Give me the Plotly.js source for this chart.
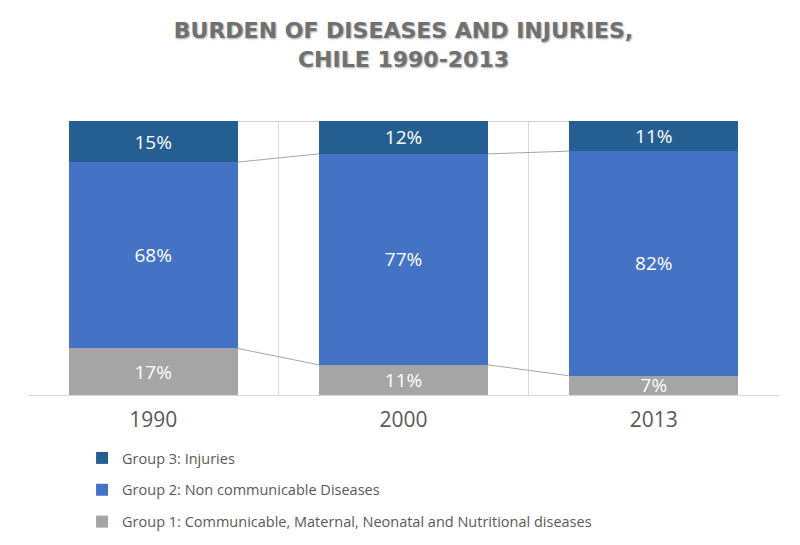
<!DOCTYPE html>
<html>
<head>
<meta charset="utf-8">
<script src="https://cdn.plot.ly/plotly-3.0.1.min.js"></script>
<style>html,body{margin:0;padding:0;background:#fff;}#chart{width:800px;height:545px;}</style>
</head>
<body>
<div id="chart"></div>
<script>
const years = ['1990', '2000', '2013'];
const group1 = [17, 11, 7];   // Communicable, Maternal, Neonatal and Nutritional
const group2 = [68, 77, 82];  // Non communicable
const group3 = [15, 12, 11];  // Injuries
const seriesNames = [
  'Group 1: Communicable, Maternal, Neonatal and Nutritional diseases',
  'Group 2: Non communicable Diseases',
  'Group 3: Injuries'
];
const colors = ['#a5a5a5', '#4472c4', '#255e91'];

const xs = years.map((_, i) => i);
const barWidth = 0.675;
const series = [group1, group2, group3];

const traces = [];
series.forEach((vals, k) => {
  traces.push({
    type: 'bar',
    x: xs,
    y: vals,
    width: barWidth,
    name: seriesNames[k],
    legendgroup: 'g' + k,
    legendrank: series.length - k,
    marker: {color: colors[k], line: {width: 0}},
    text: vals.map(v => v + '%'),
    textposition: 'inside',
    insidetextanchor: 'middle',
    textangle: 0,
    constraintext: 'none',
    textfont: {family: 'Open Sans, sans-serif', size: 19, color: '#ffffff'},
    hoverinfo: 'skip'
  });
});

// series lines connecting segment tops between adjacent bars
let cum = years.map(() => 0);
series.forEach((vals) => {
  cum = cum.map((c, i) => c + vals[i]);
  const lx = [], ly = [];
  for (let i = 0; i < xs.length - 1; i++) {
    lx.push(xs[i] + barWidth / 2, xs[i + 1] - barWidth / 2, null);
    ly.push(cum[i], cum[i + 1], null);
  }
  traces.push({
    type: 'scatter', mode: 'lines', x: lx, y: ly,
    line: {color: '#a6a6a6', width: 1},
    showlegend: false, hoverinfo: 'skip', cliponaxis: false
  });
});

const boundaries = [];
for (let i = 0; i <= xs.length; i++) boundaries.push(i - 0.5);

const layout = {
  width: 800, height: 545,
  paper_bgcolor: '#ffffff', plot_bgcolor: '#ffffff',
  margin: {l: 28, r: 21, t: 121, b: 150, autoexpand: false},
  barmode: 'stack',
  hovermode: false,
  showlegend: true,
  title: {
    text: 'BURDEN OF DISEASES AND INJURIES,<br>CHILE 1990-2013',
    font: {family: 'DejaVu Sans, sans-serif', size: 22, color: '#707070', weight: 'bold',
           shadow: '1px 1px 2px rgba(0,0,0,0.35)'},
    x: 0.5, xanchor: 'center', xref: 'paper',
    y: 0.93, yanchor: 'middle', yref: 'container'
  },
  xaxis: {
    range: [-0.5, xs.length - 0.5],
    tickvals: xs, ticktext: years,
    tickfont: {family: 'Open Sans, sans-serif', size: 21, color: '#595959'},
    ticks: '', showgrid: false, zeroline: false,
    ticklabelstandoff: 6,
    showline: true, linecolor: '#d9d9d9', linewidth: 1,
    minor: {tickvals: boundaries, showgrid: true, gridcolor: '#d9d9d9', gridwidth: 1, ticks: ''},
    fixedrange: true
  },
  yaxis: {
    range: [0, 100], visible: false, showgrid: false, zeroline: false, fixedrange: true
  },
  legend: {
    orientation: 'v',
    traceorder: 'grouped',
    tracegroupgap: 10,
    x: 0.072, xanchor: 'left', xref: 'paper',
    y: -0.1715, yanchor: 'top', yref: 'paper',
    font: {family: 'Open Sans, sans-serif', size: 14.5, color: '#595959'},
    bgcolor: 'rgba(0,0,0,0)'
  }
};

Plotly.newPlot('chart', traces, layout, {displayModeBar: false, staticPlot: true});
</script>
</body>
</html>
